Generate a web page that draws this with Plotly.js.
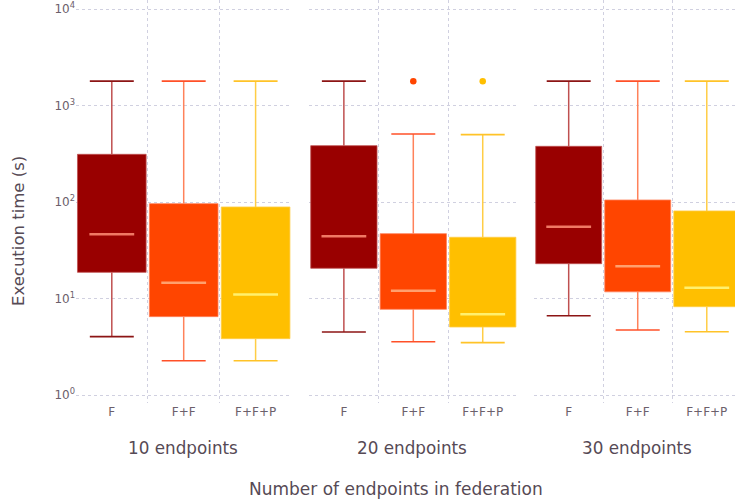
<!DOCTYPE html>
<html>
<head>
<meta charset="utf-8">
<script src="https://cdn.plot.ly/plotly-3.0.1.min.js"></script>
<style>html,body{margin:0;padding:0;background:#fff;}#chart{width:735px;height:501px;}</style>
</head>
<body>
<div id="chart"></div>
<script>
// ---- data ----
const categories = ['F', 'F+F', 'F+F+P'];
const panelLabels = ['10 endpoints', '20 endpoints', '30 endpoints'];
const xTitle = 'Number of endpoints in federation';
const yTitle = 'Execution time (s)';
const yTickVals = [1, 10, 100, 1000, 10000];
const yTickText = ['10<sup>0</sup>', '10<sup>1</sup>', '10<sup>2</sup>', '10<sup>3</sup>', '10<sup>4</sup>'];

// per panel (10, 20, 30 endpoints), per category (F, F+F, F+F+P)
const lowerWhisker = [[4.05, 2.28, 2.28], [4.53, 3.59, 3.51], [6.68, 4.75, 4.56]];
const q1 = [[18.8, 6.53, 3.86], [20.7, 7.78, 5.10], [23.1, 11.8, 8.28]];
const medians = [[46.6, 14.7, 11.1], [44.4, 12.1, 6.91], [55.9, 21.7, 13.0]];
const q3 = [[314, 96.8, 89.4], [386, 47.3, 43.4], [380, 105.6, 81.3]];
const upperWhisker = [[1800, 1800, 1800], [1800, 510, 502], [1800, 1800, 1800]];
const outliers = [[[], [], []], [[], [1800], [1800]], [[], [], []]];

// ---- styles ----
const fillColors = ['#990000', '#ff4500', '#ffbf00'];
const whiskerColors = ['#bf5050', '#ff825a', '#ffcd46'];
const capColors = ['#8c1414', '#ff5028', '#ffc328'];
const medianColors = ['#f07864', '#ffa06e', '#fff06e'];
const titleColor = '#564a55';
const tickColor = '#6c606b';
const FONT = 'DejaVu Sans, sans-serif';

const W = 735, PLOT_BOTTOM = 403, H = 501;
const panelPx = [[76, 291.4], [309.3, 517.3], [534.3, 741.3]];
const EPS = 0.002;

const traces = [];
const layout = {
  width: W, height: H,
  margin: {l: 0, r: 0, t: 0, b: H - PLOT_BOTTOM, pad: 0},
  paper_bgcolor: '#fff', plot_bgcolor: 'rgba(0,0,0,0)',
  showlegend: false,
  barmode: 'overlay',
  font: {family: FONT, color: tickColor},
  annotations: []
};

panelPx.forEach(function (px, p) {
  const sfx = p === 0 ? '' : String(p + 1);
  const xa = 'x' + sfx, ya = 'y' + sfx;
  const right = Math.min(px[1], W);
  const catW = (px[1] - px[0]) / 3;
  const rEnd = -0.5 + (right - px[0]) / catW;
  layout['xaxis' + sfx] = {
    domain: [px[0] / W, right / W],
    anchor: ya,
    type: 'category',
    categoryorder: 'array', categoryarray: categories,
    range: [-0.5 + EPS, Math.min(rEnd, 2.5 - EPS)],
    tickson: 'boundaries',
    ticks: '',
    showgrid: true, gridcolor: '#d0d0e0', griddash: 'dot', gridwidth: 1,
    showline: false, zeroline: false,
    tickfont: {family: FONT, size: 12, color: tickColor},
    fixedrange: true
  };
  layout['yaxis' + sfx] = {
    domain: [0, 1],
    anchor: xa,
    type: 'log',
    range: [-0.080, 4.096],
    tickvals: yTickVals, ticktext: yTickText,
    showticklabels: p === 0,
    ticks: '',
    showgrid: true, gridcolor: '#d0d0e0', griddash: 'dot', gridwidth: 1,
    showline: false, zeroline: false,
    tickfont: {family: FONT, size: 12, color: tickColor},
    fixedrange: true
  };
  if (p > 0) layout['yaxis' + sfx].matches = 'y';

  // boxes (q1 -> q3)
  traces.push({
    type: 'bar', xaxis: xa, yaxis: ya,
    x: categories,
    base: q1[p],
    y: q3[p].map(function (v, i) { return v - q1[p][i]; }),
    width: 0.955,
    marker: {color: fillColors, line: {color: whiskerColors, width: 0.8}},
    hoverinfo: 'skip'
  });
  // whiskers
  categories.forEach(function (c, i) {
    traces.push({
      type: 'scatter', mode: 'lines', xaxis: xa, yaxis: ya,
      x: [c, c, null, c, c],
      y: [q3[p][i], upperWhisker[p][i], null, q1[p][i], lowerWhisker[p][i]],
      line: {color: whiskerColors[i], width: 1.5},
      hoverinfo: 'skip'
    });
  });
  // whisker caps
  traces.push({
    type: 'scatter', mode: 'markers', xaxis: xa, yaxis: ya,
    x: categories.concat(categories),
    y: lowerWhisker[p].concat(upperWhisker[p]),
    marker: {symbol: 'line-ew', size: 31.4, line: {color: capColors.concat(capColors), width: 1.6}},
    hoverinfo: 'skip'
  });
  // medians
  traces.push({
    type: 'scatter', mode: 'markers', xaxis: xa, yaxis: ya,
    x: categories,
    y: medians[p],
    marker: {symbol: 'line-ew', size: 32, line: {color: medianColors, width: 2.5}},
    hoverinfo: 'skip'
  });
  // outliers
  const ox = [], oy = [], oc = [];
  outliers[p].forEach(function (vals, i) {
    vals.forEach(function (v) { ox.push(categories[i]); oy.push(v); oc.push(fillColors[i]); });
  });
  traces.push({
    type: 'scatter', mode: 'markers', xaxis: xa, yaxis: ya,
    x: ox, y: oy,
    marker: {color: oc, size: 6.5, line: {width: 0}},
    hoverinfo: 'skip'
  });

  layout.annotations.push({
    xref: 'paper', yref: 'paper',
    x: ((px[0] + px[1]) / 2 - 1) / W, y: (PLOT_BOTTOM - 448) / PLOT_BOTTOM,
    xanchor: 'center', yanchor: 'middle', showarrow: false,
    text: panelLabels[p],
    font: {family: FONT, size: 16.8, color: titleColor}
  });
});

layout.annotations.push({
  xref: 'paper', yref: 'paper',
  x: 396 / W, y: (PLOT_BOTTOM - 489) / PLOT_BOTTOM,
  xanchor: 'center', yanchor: 'middle', showarrow: false,
  text: xTitle,
  font: {family: FONT, size: 17, color: titleColor}
});
layout.annotations.push({
  xref: 'paper', yref: 'paper',
  x: 18 / W, y: (PLOT_BOTTOM - 231) / PLOT_BOTTOM,
  xanchor: 'center', yanchor: 'middle', showarrow: false,
  textangle: -90,
  text: yTitle,
  font: {family: FONT, size: 16.5, color: titleColor}
});

Plotly.newPlot('chart', traces, layout, {displayModeBar: false, staticPlot: true});
</script>
</body>
</html>
